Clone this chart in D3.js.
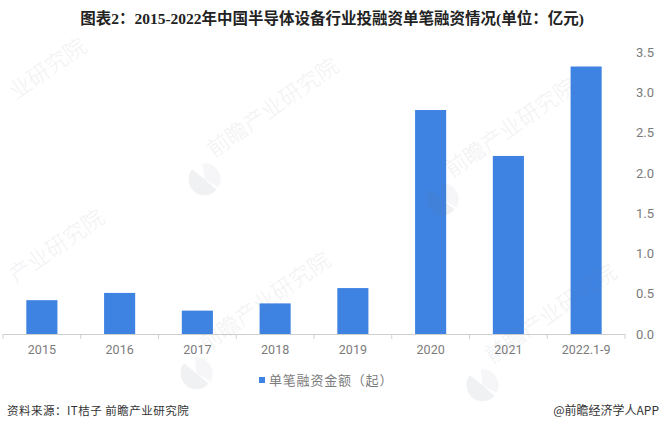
<!DOCTYPE html>
<html>
<head>
<meta charset="utf-8">
<script src="https://cdn.jsdelivr.net/npm/d3@7"></script>
<style>
  html, body { margin: 0; padding: 0; background: #fff; }
  text { font-family: "Noto Sans CJK SC", Roboto, sans-serif; }
</style>
</head>
<body>
<div id="chart"></div>
<script>
// values
const years = ["2015", "2016", "2017", "2018", "2019", "2020", "2021", "2022.1-9"];
const amounts = [0.42, 0.51, 0.29, 0.38, 0.57, 2.78, 2.21, 3.32];
const yTicks = [0, 0.5, 1, 1.5, 2, 2.5, 3, 3.5];

const titleText = "图表2：2015-2022年中国半导体设备行业投融资单笔融资情况(单位：亿元)";
const legendText = "单笔融资金额（起）";
const sourceText = "资料来源：IT桔子 前瞻产业研究院";
const creditText = "@前瞻经济学人APP";

const width = 660, height = 430;
const margin = {top: 52, right: 35, bottom: 96, left: 3};
const barColor = "#3f83e2";
const textColor = "#7b7b7b";
const tickFont = 'Roboto, "Liberation Sans", sans-serif';

const svg = d3.select("#chart").append("svg")
    .attr("width", width)
    .attr("height", height)
    .style("display", "block");

const xScale = d3.scaleBand()
    .domain(years)
    .range([margin.left, width - margin.right])
    .paddingInner(0.6)
    .paddingOuter(0.3);

const yScale = d3.scaleLinear()
    .domain([0, 3.5])
    .range([height - margin.bottom, margin.top]);

// title
svg.append("text")
    .attr("x", 332)
    .attr("y", 24)
    .attr("text-anchor", "middle")
    .attr("font-size", 15.5)
    .attr("font-weight", 700)
    .attr("fill", "#222")
    .style("font-family", '"Liberation Serif", "Noto Sans CJK SC", serif')
    .text(titleText);

// bars
svg.append("g").selectAll("rect")
    .data(amounts)
    .join("rect")
    .attr("x", (d, i) => xScale(years[i]))
    .attr("y", d => yScale(d))
    .attr("width", xScale.bandwidth())
    .attr("height", d => yScale(0) - yScale(d))
    .attr("fill", barColor);

// x axis, ticks between the bands
const step = xScale.step();
const xAxis = svg.append("g")
    .attr("transform", `translate(0,${yScale(0)})`)
    .call(d3.axisBottom(xScale).tickSize(0).tickPadding(11));
xAxis.select(".domain").attr("stroke", "#cfcfcf");
xAxis.selectAll("text")
    .attr("font-size", 12.5)
    .attr("fill", textColor)
    .style("font-family", tickFont);
xAxis.selectAll(".sep")
    .data(d3.range(years.length + 1))
    .join("line")
    .attr("class", "sep")
    .attr("x1", i => margin.left + i * step)
    .attr("x2", i => margin.left + i * step)
    .attr("y1", 0)
    .attr("y2", 5)
    .attr("stroke", "#cfcfcf");

// y axis on the right
const yAxis = svg.append("g")
    .attr("transform", `translate(${width - margin.right},0)`)
    .call(d3.axisRight(yScale).tickValues(yTicks).tickFormat(d3.format(".1f")).tickSize(0).tickPadding(11));
yAxis.select(".domain").remove();
yAxis.selectAll("text")
    .attr("font-size", 13)
    .attr("fill", textColor)
    .style("font-family", tickFont);

// legend
svg.append("rect")
    .attr("x", 259)
    .attr("y", 377)
    .attr("width", 6)
    .attr("height", 6)
    .attr("fill", barColor);
svg.append("text")
    .attr("x", 269)
    .attr("y", 385)
    .attr("font-size", 13)
    .attr("letter-spacing", 0.8)
    .attr("fill", textColor)
    .text(legendText);

// footer
svg.append("text")
    .attr("x", 7)
    .attr("y", 415)
    .attr("font-size", 11.5)
    .attr("letter-spacing", 0.5)
    .attr("fill", "#333")
    .text(sourceText);
svg.append("text")
    .attr("x", 659)
    .attr("y", 415)
    .attr("text-anchor", "end")
    .attr("font-size", 12)
    .attr("fill", "#333")
    .text(creditText);

// faint watermarks over everything; the two on the left edge show only their last characters
const marks = [
    {x: 16, y: 100, name: "业研究院", logo: false},
    {x: 214, y: 158, name: "前瞻产业研究院", logo: true},
    {x: 452, y: 178, name: "前瞻产业研究院", logo: true},
    {x: 16, y: 284, name: "产业研究院", logo: false},
    {x: 206, y: 352, name: "前瞻产业研究院", logo: true},
    {x: 492, y: 364, name: "前瞻产业研究院", logo: true}
];
const mark = svg.append("g").selectAll("g")
    .data(marks)
    .join("g")
    .attr("transform", d => `translate(${d.x},${d.y}) rotate(-35)`)
    .attr("opacity", 0.09)
    .attr("fill", "#5f7085");
mark.append("text")
    .attr("font-size", 22)
    .attr("font-weight", 300)
    .text(d => d.name);
// round logo, split in two by a slanted gap
const logoArc = d3.arc().innerRadius(0).outerRadius(16);
const logo = mark.filter(d => d.logo).append("g")
    .attr("transform", "translate(-20,12)");
logo.append("path").attr("d", logoArc({startAngle: 2.9, endAngle: 6.0}));
logo.append("path")
    .attr("opacity", 0.6)
    .attr("d", logoArc({startAngle: 0.5, endAngle: 2.7}));
</script>
</body>
</html>
